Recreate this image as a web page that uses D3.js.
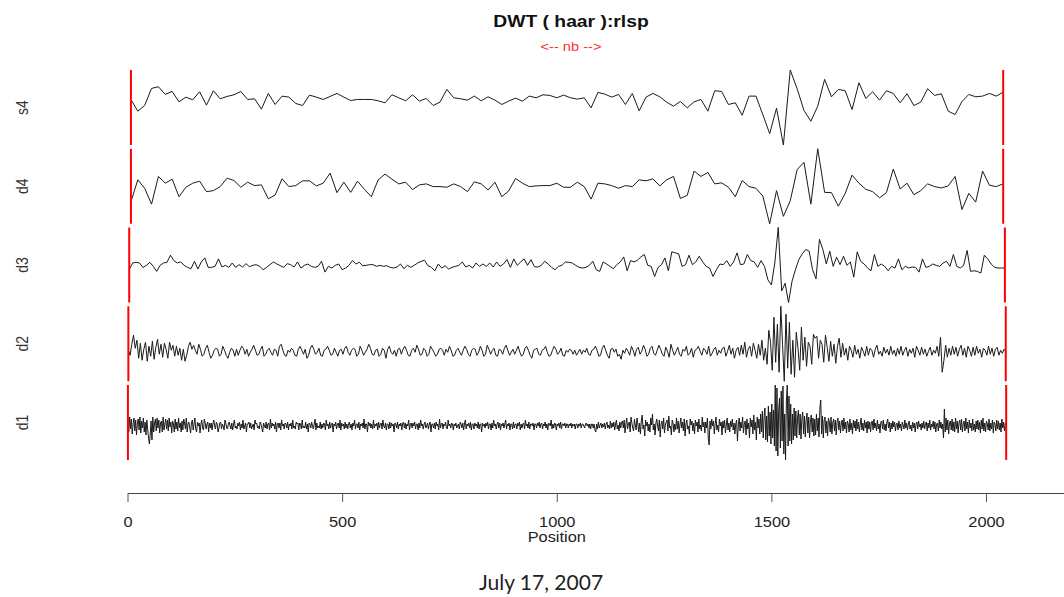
<!DOCTYPE html>
<html>
<head>
<meta charset="utf-8">
<script src="https://d3js.org/d3.v7.min.js"></script>
<style>
  html, body { margin: 0; background: #fff; }
  svg { display: block; font-family: "Liberation Sans", Arial, sans-serif; }
</style>
</head>
<body>
<div id="chart"></div>
<script>
// DWT (haar) of a 2048-sample record: smooth s4 plus details d4..d1.
// Each level is scaled to its own range, as in the R plot.
const levelNames = ["s4", "d4", "d3", "d2", "d1"];
const positionTicks = [0, 500, 1000, 1500, 2000];
const seriesLength = 2048;

const s4 = [
  140,105,122,173,178,155,164,133,147,139,163,123,166,142,149,154,164,140,142,111,158,125,150,147,128,122,153,147,140,149,158,147,137,140,140,140,136,130,154,145,136,154,135,143,
  122,132,170,145,142,138,150,136,148,138,125,135,144,135,150,145,154,152,145,153,145,141,145,115,161,156,147,155,125,158,106,147,158,148,132,120,134,115,133,140,105,
  166,164,125,130,93,150,150,95,38,114,4,228,172,107,75,120,200,148,170,166,110,190,143,163,138,166,158,130,157,122,132,172,152,157,105,95,134,155,148,150,158,150,162
];

const d4 = [
  75,140,115,68,150,130,142,90,118,130,136,105,108,120,145,138,118,133,123,125,84,95,143,120,123,137,137,122,130,160,102,133,103,136,112,90,140,157,142,128,133,111,125,128,
  120,120,118,128,120,105,134,128,110,133,90,107,144,130,120,122,123,123,130,118,118,133,120,83,130,128,123,115,123,120,140,137,143,122,140,150,85,94,166,150,162,
  128,131,118,90,138,120,115,92,10,108,32,78,170,192,68,232,103,102,62,100,154,130,112,105,87,102,172,113,130,96,108,128,120,116,122,150,52,100,74,166,124,120,128
];

const d3v = [
  105,125,127,125,112,118,127,115,100,118,125,127,148,132,125,128,118,112,108,130,
  107,128,140,112,112,115,137,113,118,112,125,112,120,113,123,114,118,120,115,105,
  112,120,128,122,117,112,123,120,113,128,110,118,122,115,112,115,130,98,115,110,
  118,122,105,110,118,132,122,127,117,118,120,120,115,118,115,117,112,110,113,122,
  108,118,112,118,125,130,133,117,112,102,122,110,117,107,112,115,118,128,113,118,
  110,125,115,122,115,125,113,128,115,122,135,112,137,118,128,137,118,135,114,113,
  118,130,122,112,105,115,118,
  128,127,125,118,112,110,112,118,130,105,100,128,122,115,108,120,128,143,102,132,
  128,133,143,150,118,115,85,112,120,140,102,158,155,152,115,120,148,120,128,145,
  128,115,110,85,105,122,120,132,115,128,155,120,122,150,132,128,112,132,115,75,
  60,125,230,42,65,8,70,105,135,152,165,160,105,78,195,165,122,160,115,142,
  120,145,118,128,83,158,130,122,110,102,150,115,122,115,102,115,110,137,105,115,
  110,113,112,98,137,112,115,122,118,115,125,130,115,150,115,110,118,162,100,102,
  100,95,148,137,122,112,110,110,110
];

const d2 = [
  2,-3,8,17,4,12,-6,9,-8,3,10,-9,6,-4,11,-7,5,13,-2,8,-5,9,3,-6,10,2,7,-4,6,-3,4,-8,
  3,-9,-3,6,10,3,7,2,-2,8,3,-4,-2,4,7,0,-6,-3,2,4,3,-4,-2,6,2,-3,-6,0,4,2,-4,3,
  -3,2,6,4,-2,3,-4,0,3,7,2,-3,-2,3,6,-4,-2,2,4,0,-3,3,2,-4,6,8,2,-3,-4,2,0,4,
  2,-3,-4,3,6,2,-2,3,-6,-3,4,7,3,-2,0,4,-3,-4,2,3,6,2,-3,-2,4,0,-4,2,3,-2,4,6,
  0,-3,2,4,3,-4,-2,6,2,-3,0,3,8,4,-2,-3,2,3,-4,-2,4,2,-6,3,6,0,-2,2,-4,3,4,-2,
  3,6,2,-3,-4,2,4,0,7,3,-3,-2,4,2,-4,-2,6,3,0,-4,-2,3,4,2,-3,3,0,6,2,-4,-3,2,
  4,0,-3,2,6,3,-2,-4,2,4,3,-3,0,6,2,-4,-2,7,3,-2,2,4,-3,-4,3,2,-2,4,7,2,-3,0,
  3,-2,2,6,0,-4,-2,4,6,2,-3,-6,2,3,4,-2,-3,2,3,6,0,-4,-3,2,6,3,-2,0,4,-3,-4,2,
  0,3,2,-2,2,-3,0,3,-2,2,0,4,-2,-3,2,3,6,2,-4,-3,4,7,2,-3,-6,3,4,0,3,-4,-2,-7,
  2,-1,4,1,-3,6,2,-4,3,5,-2,1,7,3,-4,-2,4,6,-1,-3,2,7,3,-2,-4,5,1,-5,8,2,-3,1,
  5,-2,-4,3,1,6,-3,-1,4,-5,2,3,6,1,-3,4,2,-2,6,-4,-1,3,5,-3,2,-1,4,5,-4,1,7,-2,
  4,-6,2,5,-3,7,-2,10,-5,3,6,-4,9,2,-6,8,-3,12,-8,4,-12,22,10,-18,35,-10,28,-20,46,8,-29,38,
  -16,30,-22,12,-25,20,4,-18,25,-8,15,-14,10,6,-12,18,14,16,-6,12,8,-10,17,5,-9,11,-4,8,-11,6,14,-5,
  9,-3,4,-8,6,2,-5,7,-2,3,-6,5,1,-4,6,-3,4,2,-5,3,7,-2,1,-4,5,-1,3,-3,6,-2,2,-4,
  4,-2,6,-3,2,5,-4,3,-1,4,-5,6,2,-3,5,-2,3,-4,1,5,-3,2,-1,6,-4,15,-20,-8,7,-5,4,-3,
  6,-2,5,-4,3,7,-3,4,-5,6,2,-4,5,-3,6,-1,3,-5,4,2,-3,6,-2,4,-4,3,5,-3,2,-1,3,1
];

const d1 = [
  4,-6,9,-3,7,-8,2,8,-5,6,-9,3,7,-4,9,-7,5,-2,8,-6,4,-9,6,-3,-12,-18,-8,5,-14,9,-6,3,
  7,-5,8,-2,6,-7,3,5,-6,9,-4,2,7,-3,6,-5,8,-1,4,-7,5,2,-6,7,-3,4,-5,8,-2,3,-6,5,
  -4,7,3,-3,8,-6,2,4,-2,-7,3,6,-4,2,8,-3,-6,4,0,3,-7,2,6,-2,-4,7,3,-3,2,4,-6,3,
  -2,3,-4,2,6,0,-3,4,2,-6,-2,3,4,-3,2,0,-4,6,3,-2,-3,2,4,0,-3,3,-4,2,6,-2,0,-3,
  3,0,4,-4,2,-2,6,-3,0,3,-6,2,2,4,-2,3,-3,0,2,-4,6,2,3,-2,0,-3,4,2,-2,-6,3,0,
  -2,4,-3,2,3,-4,7,-2,3,0,2,-3,4,-6,2,3,-2,3,-4,6,0,2,-3,3,2,-2,4,-4,2,0,3,-3,
  6,-2,0,-3,4,2,3,-4,3,2,-3,6,-2,0,-2,4,-3,2,-6,3,2,-2,4,0,-3,2,7,-4,3,-2,0,-2,
  4,-3,2,-2,3,2,-4,6,0,2,-3,4,-2,2,3,-6,2,0,4,-3,2,3,-2,6,-4,3,0,2,-3,4,-2,2,
  -3,2,4,-2,2,-4,3,0,6,-3,2,2,-2,4,-4,2,0,3,-2,7,-3,2,2,-6,4,0,3,-2,2,-3,6,-2,
  2,0,3,-4,4,-2,2,3,-3,6,0,-2,3,-4,2,2,-3,4,-2,3,0,2,-6,3,2,-2,4,-3,2,0,3,-4,
  2,4,-2,3,-3,2,0,6,-4,2,3,-2,3,0,4,-3,2,2,-4,3,-2,6,0,2,-3,2,4,-2,0,3,-3,2,
  4,-6,2,2,-2,3,-3,4,0,2,-4,7,-2,2,3,-3,2,0,4,-2,-3,6,0,2,-2,3,2,-4,2,0,3,-2,
  0,2,-3,4,2,-2,3,-4,2,6,-3,2,0,3,-2,4,-4,2,2,-3,3,0,2,-2,4,-3,2,2,-6,3,0,2,
  -2,3,0,4,-3,2,2,-4,3,-2,6,0,2,-3,2,4,-2,3,-4,2,0,3,-2,2,6,-3,2,0,3,-4,2,2,
  -3,4,-2,2,2,-3,3,0,4,-4,2,-2,2,3,-3,6,0,2,-2,4,-3,2,2,0,3,-4,2,2,-2,3,0,4,
  -2,2,3,-3,2,0,4,-2,2,-4,3,2,0,6,-3,2,-2,3,2,-4,2,0,3,-2,4,-3,2,2,0,3,-2,2,
  2,-2,2,0,3,-2,2,0,2,-3,2,2,-2,2,0,3,-2,2,2,0,-2,2,3,0,2,-2,2,-3,2,2,-2,2,
  -4,-6,2,-3,4,-2,1,3,-2,2,-1,3,-3,2,4,-2,1,-3,5,-2,3,-1,4,-4,2,6,-3,1,-5,4,-2,3,
  5,-2,6,-7,1,8,-3,2,4,-6,9,3,-2,-5,7,1,-4,8,2,-6,3,-8,5,11,-3,1,-10,6,0,4,-5,2,
  -6,8,1,12,-4,2,-9,3,7,0,-5,6,-11,2,5,-3,8,-7,1,4,6,-5,10,-2,0,-9,6,3,-6,2,-4,8,
  -3,5,-7,1,8,-2,4,-5,7,-10,2,6,-3,0,-8,7,1,5,-5,3,-8,6,0,4,-6,7,-3,1,-5,9,-1,4,
  -7,4,-2,8,-12,-19,5,-3,7,0,5,-8,2,9,-4,1,-6,7,0,4,-9,5,-2,6,-7,1,8,-4,3,-6,5,-1,
  7,-4,3,-8,2,6,-15,1,8,-5,4,-2,9,-7,2,5,-9,7,-3,3,-12,8,-1,6,-8,11,-4,4,-14,9,-2,7,
  -8,12,-6,15,-12,9,18,-14,10,-16,20,-10,14,-18,22,-12,16,-20,41,-25,38,-30,15,28,-22,35,-15,40,-28,12,-34,25,
  41,-20,30,-15,22,-18,12,-14,18,-10,15,-12,8,16,-9,12,-13,7,14,-8,10,-11,6,13,-7,9,-12,5,11,-6,8,-10,
  7,-9,12,-5,8,-11,18,26,-8,10,-12,6,9,-7,5,-10,8,4,-6,9,-8,3,7,-5,6,-9,4,8,-4,5,-7,3,
  6,-5,8,-3,4,-7,5,2,-6,7,-4,3,-8,6,-2,5,-5,7,-3,4,-6,2,8,-4,3,-5,6,-2,4,-7,5,-3,
  4,-6,3,5,-4,7,-2,3,-5,6,-3,2,-7,4,5,-3,6,-4,2,-5,3,7,-2,4,-6,3,-3,5,-1,4,-5,2,
  3,-4,5,-2,2,-5,4,1,-3,6,-2,3,-4,2,5,-3,1,-5,4,-2,3,-6,2,4,-3,5,-1,2,-4,3,-2,5,
  -3,2,4,-5,3,-2,6,-4,2,-1,5,-3,4,-6,2,3,-5,6,-2,4,-3,2,-12,17,-6,8,-4,6,-8,3,5,-4,
  7,-5,4,-6,8,-3,5,-7,3,6,-4,7,-6,2,5,-5,8,-3,4,-7,6,-2,3,-5,7,-4,2,-6,5,-3,6,-4,
  4,-7,6,-3,8,-5,3,-6,5,2,-4,7,-5,3,-3,6,-7,4,2,-5,6,-3,5,-4,3,-6,7,-2,4,-5,3,1
];

const levels = [s4, d4, d3v, d2, d1];

const width = 1064;
const height = 597;
const stretch = 1.17; // the source graphic was widened, glyphs included
const bandTop = 70;
const bandStep = 78.75;
const bandH = 75;
const axisY = 493;

const svg = d3
  .select("#chart")
  .append("svg")
  .attr("width", width)
  .attr("height", height)
  .attr("viewBox", `0 0 ${width} ${height}`);

const x = d3.scaleLinear().domain([0, 2000]).range([127.5, 986]);

const traces = svg.append("g").attr("class", "traces");
const markers = svg.append("g").attr("class", "nb-markers");
const labels = svg.append("g").attr("class", "level-labels");

levels.forEach((values, i) => {
  const top = bandTop + i * bandStep;
  const y = d3.scaleLinear().domain(d3.extent(values)).range([top + bandH, top]);
  const step = seriesLength / values.length;
  const pos = (k) => (k + 0.5) * step;

  const line = d3
    .line()
    .x((d, k) => x(pos(k)))
    .y((d) => y(d));

  traces
    .append("path")
    .datum(values)
    .attr("d", line)
    .attr("fill", "none")
    .attr("stroke", "#1a1a1a")
    .attr("stroke-width", 1)
    .attr("stroke-linejoin", "round");

  // red markers at first and last coefficient of each level
  [0, values.length - 1].forEach((k) => {
    markers
      .append("line")
      .attr("x1", x(pos(k)))
      .attr("x2", x(pos(k)))
      .attr("y1", top)
      .attr("y2", top + bandH)
      .attr("stroke", "#ff0000")
      .attr("stroke-width", 2);
  });

  labels
    .append("text")
    .attr("transform", `translate(22,${top + bandH / 2}) scale(${stretch},1) rotate(-90)`)
    .attr("text-anchor", "middle")
    .attr("dy", "0.35em")
    .attr("font-size", 14)
    .attr("fill", "#333")
    .text(levelNames[i]);
});

// x axis, line runs on to the right edge like the original
const axis = d3
  .axisBottom(x)
  .tickValues(positionTicks)
  .tickFormat(d3.format("d"))
  .tickSize(9)
  .tickPadding(15)
  .tickSizeOuter(0);

const axisG = svg
  .append("g")
  .attr("transform", `translate(0,${axisY})`)
  .call(axis)
  .attr("font-family", null)
  .attr("font-size", 14);

axisG.select(".domain").remove();
axisG
  .append("line")
  .attr("x1", x(0) + 0.5)
  .attr("x2", width)
  .attr("y1", 0.5)
  .attr("y2", 0.5)
  .attr("stroke", "#444");
axisG.selectAll(".tick line").attr("stroke", "#555");
axisG
  .selectAll(".tick text")
  .attr("fill", "#222")
  .attr("transform", `scale(${stretch},1)`);

svg
  .append("text")
  .attr("transform", `translate(${x(1000)},542) scale(${stretch},1)`)
  .attr("text-anchor", "middle")
  .attr("font-size", 14)
  .attr("fill", "#222")
  .text("Position");

svg
  .append("text")
  .attr("transform", `translate(571,27) scale(${stretch},1)`)
  .attr("text-anchor", "middle")
  .attr("font-size", 16.5)
  .attr("font-weight", "bold")
  .attr("fill", "#111")
  .text("DWT ( haar ):rlsp");

svg
  .append("text")
  .attr("transform", `translate(571,51) scale(${stretch},1)`)
  .attr("text-anchor", "middle")
  .attr("font-size", 12.5)
  .attr("fill", "#ff3030")
  .text("<-- nb -->");

svg
  .append("text")
  .attr("x", 541)
  .attr("y", 590)
  .attr("text-anchor", "middle")
  .attr("font-family", "Lato, 'Open Sans', sans-serif")
  .attr("font-size", 21)
  .attr("fill", "#222")
  .text("July 17, 2007");
</script>
</body>
</html>
